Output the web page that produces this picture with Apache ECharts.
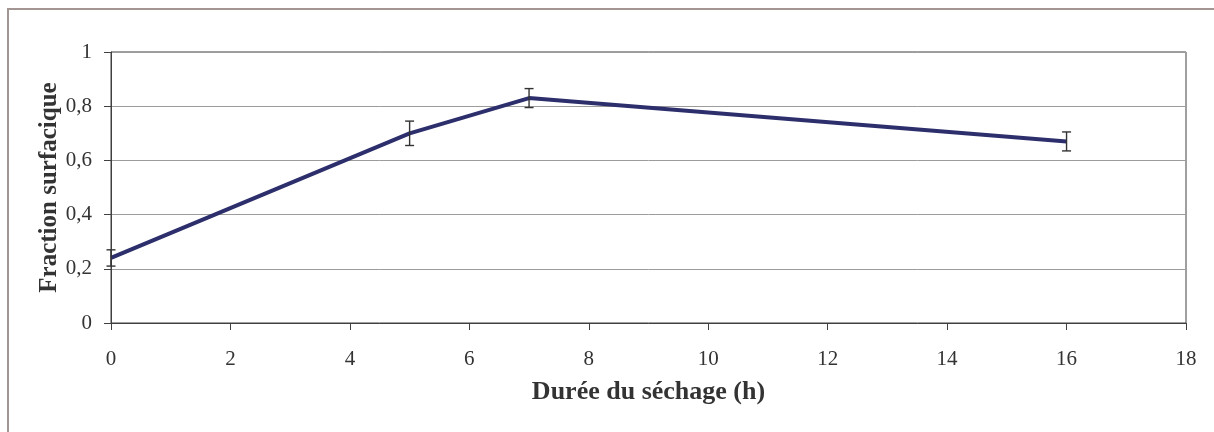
<!DOCTYPE html>
<html>
<head>
<meta charset="utf-8">
<script src="https://cdn.jsdelivr.net/npm/echarts@6/dist/echarts.min.js"></script>
<style>
  html, body { margin: 0; padding: 0; background: #fff; }
  #chart { width: 1214px; height: 432px; }
</style>
</head>
<body>
<div id="chart"></div>
<script>
// Drying time (h) and measured surface fraction, with error half-widths
const dureeHeures = [0, 5, 7, 16];
const fractionSurfacique = [0.24, 0.70, 0.83, 0.67];
const erreur = [0.03, 0.045, 0.035, 0.035];

const xTitre = 'Durée du séchage (h)';
const yTitre = 'Fraction surfacique';

const lineData = dureeHeures.map((x, i) => [x, fractionSurfacique[i]]);
const errData = dureeHeures.map((x, i) => [x, fractionSurfacique[i] - erreur[i], fractionSurfacique[i] + erreur[i]]);

const fontFam = '"Liberation Serif", "Times New Roman", serif';
const chart = echarts.init(document.getElementById('chart'), null, { renderer: 'canvas' });

chart.setOption({
  animation: false,
  backgroundColor: '#ffffff',
  graphic: [{
    type: 'rect',
    shape: { x: 8, y: 9, width: 1230, height: 450 },
    style: { fill: 'none', stroke: '#a39692', lineWidth: 2 },
    silent: true,
    z: -1
  }],
  grid: {
    left: 111, top: 52, right: 28, bottom: 109,
    show: true, borderColor: '#404040', borderWidth: 1, backgroundColor: 'transparent'
  },
  xAxis: {
    type: 'value',
    min: 0, max: 18, interval: 2,
    name: xTitre,
    nameLocation: 'middle',
    nameGap: 56,
    nameTextStyle: { fontFamily: fontFam, fontSize: 26, fontWeight: 'bold', color: '#333' },
    axisLine: { show: true, onZero: false, lineStyle: { color: '#404040', width: 1 } },
    axisTick: { show: true, inside: false, length: 7, lineStyle: { color: '#404040' } },
    axisLabel: { fontFamily: fontFam, fontSize: 21, color: '#333', margin: 26 },
    splitLine: { show: false }
  },
  yAxis: {
    type: 'value',
    min: 0, max: 1, interval: 0.2,
    name: yTitre,
    nameLocation: 'middle',
    nameGap: 49,
    nameMoveOverlap: false,
    nameRotate: 90,
    nameTextStyle: { fontFamily: fontFam, fontSize: 25, fontWeight: 'bold', color: '#333' },
    axisLine: { show: true, lineStyle: { color: '#404040', width: 1 } },
    axisTick: { show: true, inside: false, length: 7, lineStyle: { color: '#404040' } },
    axisLabel: {
      fontFamily: fontFam, fontSize: 21, color: '#333', margin: 19,
      formatter: v => (Math.round(v * 10) / 10).toString().replace('.', ',')
    },
    splitLine: { show: true, lineStyle: { color: '#9c9c9c', width: 1 } }
  },
  series: [
    {
      type: 'line',
      data: lineData,
      showSymbol: false,
      symbol: 'none',
      lineStyle: { color: '#2d2f6c', width: 4 },
      z: 3
    },
    {
      type: 'custom',
      data: errData,
      z: 4,
      renderItem: function (params, api) {
        const x = api.value(0);
        const lo = api.coord([x, api.value(1)]);
        const hi = api.coord([x, api.value(2)]);
        const hw = 4.5;
        const st = { stroke: '#333333', lineWidth: 1.4 };
        return {
          type: 'group',
          children: [
            { type: 'line', shape: { x1: lo[0], y1: lo[1], x2: hi[0], y2: hi[1] }, style: st },
            { type: 'line', shape: { x1: lo[0] - hw, y1: lo[1], x2: lo[0] + hw, y2: lo[1] }, style: st },
            { type: 'line', shape: { x1: hi[0] - hw, y1: hi[1], x2: hi[0] + hw, y2: hi[1] }, style: st }
          ]
        };
      }
    }
  ]
});
</script>
</body>
</html>
